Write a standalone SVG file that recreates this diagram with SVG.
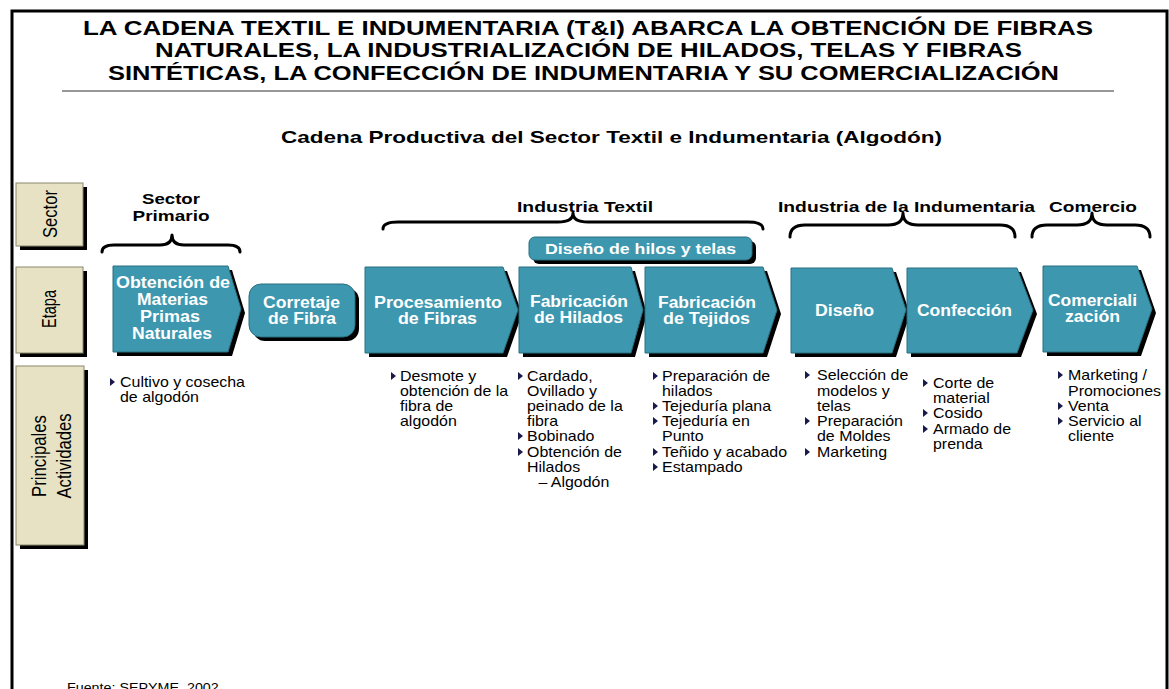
<svg xmlns="http://www.w3.org/2000/svg" width="1169" height="689" viewBox="0 0 1169 689">
<style>
.title{font-family:"Liberation Sans Narrow","Liberation Sans",Arial,sans-serif;font-weight:bold;font-size:21px;fill:#000;text-anchor:middle}
.sub{font-family:"Liberation Sans",Arial,sans-serif;font-weight:bold;font-size:17px;fill:#000;text-anchor:middle}
.hdr{font-family:"Liberation Sans",Arial,sans-serif;font-weight:bold;font-size:15.5px;fill:#000;text-anchor:middle}
.lbl{font-family:"Liberation Sans",Arial,sans-serif;font-weight:bold;font-size:16px;fill:#fff;text-anchor:middle}
.side{font-family:"Liberation Sans Narrow","Liberation Sans",Arial,sans-serif;font-size:20px;fill:#000;text-anchor:middle}
.act{font-family:"Liberation Sans",Arial,sans-serif;font-size:14px;fill:#000}
.foot{font-family:"Liberation Sans",Arial,sans-serif;font-size:13px;fill:#000}
.shape{fill:#3d97ae;stroke:#2b6f80;stroke-width:1}
.shadow{fill:#000}
.beige{fill:#e6e2c3;stroke:#8a876e;stroke-width:1}
.brace{fill:none;stroke:#000;stroke-width:3;stroke-linecap:round;stroke-linejoin:round}
.bul{fill:#1a1a4a}
</style>
<rect width="1169" height="689" fill="#fff"/>
<!-- frame -->
<path d="M12 700 L12 11 L1167 11 L1167 700" fill="none" stroke="#000" stroke-width="3"/>
<!-- title -->
<g id="title">
<text class="title" x="588" y="35" textLength="1010" lengthAdjust="spacingAndGlyphs">LA CADENA TEXTIL E INDUMENTARIA (T&amp;I) ABARCA LA OBTENCIÓN DE FIBRAS</text>
<text class="title" x="588.5" y="57" textLength="867" lengthAdjust="spacingAndGlyphs">NATURALES, LA INDUSTRIALIZACIÓN DE HILADOS, TELAS Y FIBRAS</text>
<text class="title" x="583.5" y="80" textLength="951" lengthAdjust="spacingAndGlyphs">SINTÉTICAS, LA CONFECCIÓN DE INDUMENTARIA Y SU COMERCIALIZACIÓN</text>
<line x1="62" y1="91" x2="1114" y2="91" stroke="#333" stroke-width="1.2"/>
<text class="sub" x="611.5" y="143" textLength="661" lengthAdjust="spacingAndGlyphs">Cadena Productiva del Sector Textil e Indumentaria (Algodón)</text>
</g>
<!-- side labels -->
<g id="side-sector">
<rect class="shadow" x="20" y="187" width="67" height="63"/>
<rect class="beige" x="16" y="183" width="67" height="63"/>
<text class="side" transform="translate(57,214) rotate(-90)" textLength="48" lengthAdjust="spacingAndGlyphs">Sector</text>
</g>
<g id="side-etapa">
<rect class="shadow" x="20" y="271" width="67" height="86"/>
<rect class="beige" x="16" y="267" width="67" height="86"/>
<text class="side" transform="translate(56,309) rotate(-90)" textLength="38" lengthAdjust="spacingAndGlyphs">Etapa</text>
</g>
<g id="side-actividades">
<rect class="shadow" x="20" y="370" width="68" height="179"/>
<rect class="beige" x="16" y="366" width="68" height="179"/>
<text class="side" transform="translate(46,456) rotate(-90)" textLength="82" lengthAdjust="spacingAndGlyphs">Principales</text>
<text class="side" transform="translate(71,456) rotate(-90)" textLength="85" lengthAdjust="spacingAndGlyphs">Actividades</text>
</g>
<!-- sector headers and braces -->
<g id="connectors">
<path class="brace" d="M102 252 Q102 245 114 245 L160 245 Q172 245 172 235 Q172 245 184 245 L228 245 Q240 245 240 252"/>
<path class="brace" d="M383 229 Q383 222 398 222 L558 222 Q573 222 573 213 Q573 222 588 222 L748 222 Q763 222 763 229"/>
<path class="brace" d="M790 237 Q790 225 805 225 L888 225 Q903 225 903 213 Q903 225 918 225 L1000 225 Q1015 225 1015 237"/>
<path class="brace" d="M1032 237 Q1032 225 1047 225 L1077 225 Q1092 225 1092 213 Q1092 225 1107 225 L1135 225 Q1150 225 1150 237"/>
</g>
<g id="sector-primario">
<text class="hdr" x="171" y="204" textLength="58" lengthAdjust="spacingAndGlyphs">Sector</text>
<text class="hdr" x="171" y="221" textLength="77" lengthAdjust="spacingAndGlyphs">Primario</text>
</g>
<g id="sector-textil"><text class="hdr" x="585" y="212" textLength="136" lengthAdjust="spacingAndGlyphs">Industria Textil</text></g>
<g id="sector-indumentaria"><text class="hdr" x="906.5" y="212" textLength="257" lengthAdjust="spacingAndGlyphs">Industria de la Indumentaria</text></g>
<g id="sector-comercio"><text class="hdr" x="1093" y="212" textLength="88" lengthAdjust="spacingAndGlyphs">Comercio</text></g>
<!-- stages -->
<g id="etapa-obtencion">
<path class="shadow" d="M117 270 L232 270 L245 313 L232 356 L117 356 Z"/>
<path class="shape" d="M113 266 L228 266 L241 309 L228 352 L113 352 Z"/>
<text class="lbl" x="173" y="288" textLength="114" lengthAdjust="spacingAndGlyphs">Obtención de</text>
<text class="lbl" x="172.5" y="305" textLength="71" lengthAdjust="spacingAndGlyphs">Materias</text>
<text class="lbl" x="170" y="322" textLength="60" lengthAdjust="spacingAndGlyphs">Primas</text>
<text class="lbl" x="172" y="339" textLength="80" lengthAdjust="spacingAndGlyphs">Naturales</text>
</g>
<g id="etapa-corretaje">
<rect class="shadow" x="253" y="288" width="106" height="53" rx="12"/>
<rect class="shape" x="249" y="284" width="106" height="53" rx="12"/>
<text class="lbl" x="301.5" y="308" textLength="77" lengthAdjust="spacingAndGlyphs">Corretaje</text>
<text class="lbl" x="302" y="324" textLength="68" lengthAdjust="spacingAndGlyphs">de Fibra</text>
</g>
<g id="diseno-hilos">
<rect class="shadow" x="533" y="241" width="223" height="23" rx="6"/>
<rect class="shape" x="529" y="237" width="223" height="23" rx="6"/>
<text class="lbl" x="640.5" y="254" textLength="191" lengthAdjust="spacingAndGlyphs" style="font-size:15px">Diseño de hilos y telas</text>
</g>
<g id="etapa-procesamiento">
<path class="shadow" d="M369 271 L507 271 L522 314 L507 357 L369 357 Z"/>
<path class="shape" d="M365 267 L503 267 L518 310 L503 353 L365 353 Z"/>
<text class="lbl" x="438" y="308" textLength="128" lengthAdjust="spacingAndGlyphs">Procesamiento</text>
<text class="lbl" x="437.5" y="324" textLength="79" lengthAdjust="spacingAndGlyphs">de Fibras</text>
</g>
<g id="etapa-hilados">
<path class="shadow" d="M523 271 L635 271 L647 314 L635 357 L523 357 Z"/>
<path class="shape" d="M519 267 L631 267 L643 310 L631 353 L519 353 Z"/>
<text class="lbl" x="579" y="307" textLength="98" lengthAdjust="spacingAndGlyphs">Fabricación</text>
<text class="lbl" x="578.5" y="323" textLength="89" lengthAdjust="spacingAndGlyphs">de Hilados</text>
</g>
<g id="etapa-tejidos">
<path class="shadow" d="M649 271 L767 271 L781 314 L767 357 L649 357 Z"/>
<path class="shape" d="M645 267 L763 267 L777 310 L763 353 L645 353 Z"/>
<text class="lbl" x="707" y="308" textLength="98" lengthAdjust="spacingAndGlyphs">Fabricación</text>
<text class="lbl" x="706.5" y="324" textLength="87" lengthAdjust="spacingAndGlyphs">de Tejidos</text>
</g>
<g id="etapa-diseno">
<path class="shadow" d="M795 272 L896 272 L910 314 L896 357 L795 357 Z"/>
<path class="shape" d="M791 268 L892 268 L906 310 L892 353 L791 353 Z"/>
<text class="lbl" x="844.5" y="316" textLength="59" lengthAdjust="spacingAndGlyphs">Diseño</text>
</g>
<g id="etapa-confeccion">
<path class="shadow" d="M911 272 L1021 272 L1037 314 L1021 357 L911 357 Z"/>
<path class="shape" d="M907 268 L1017 268 L1033 310 L1017 353 L907 353 Z"/>
<text class="lbl" x="964.5" y="316" textLength="95" lengthAdjust="spacingAndGlyphs">Confección</text>
</g>
<g id="etapa-comercializacion">
<path class="shadow" d="M1047 270 L1141 270 L1156 313 L1141 356 L1047 356 Z"/>
<path class="shape" d="M1043 266 L1137 266 L1152 309 L1137 352 L1043 352 Z"/>
<text class="lbl" x="1092.5" y="306" textLength="89" lengthAdjust="spacingAndGlyphs">Comerciali</text>
<text class="lbl" x="1092.5" y="322" textLength="55" lengthAdjust="spacingAndGlyphs">zación</text>
</g>
<!-- activities -->
<g id="act-obtencion">
<path class="bul" d="M110 378 L115 382 L110 386 Z"/>
<g transform="translate(120,0) scale(1.14,1)" class="act">
<text x="0" y="387">Cultivo y cosecha</text>
<text x="0" y="402">de algodón</text>
</g>
</g>
<g id="act-procesamiento">
<path class="bul" d="M391 372 L396 376 L391 380 Z"/>
<g transform="translate(400,0) scale(1.14,1)" class="act">
<text x="0" y="381">Desmote y</text>
<text x="0" y="396">obtención de la</text>
<text x="0" y="411">fibra de</text>
<text x="0" y="426">algodón</text>
</g>
</g>
<g id="act-hilados">
<path class="bul" d="M518 372 L523 376 L518 380 Z"/>
<path class="bul" d="M518 432 L523 436 L518 440 Z"/>
<path class="bul" d="M518 448 L523 452 L518 456 Z"/>
<g transform="translate(527,0) scale(1.14,1)" class="act">
<text x="0" y="381">Cardado,</text>
<text x="0" y="396">Ovillado y</text>
<text x="0" y="411">peinado de la</text>
<text x="0" y="426">fibra</text>
<text x="0" y="441">Bobinado</text>
<text x="0" y="457">Obtención de</text>
<text x="0" y="472">Hilados</text>
<text x="10" y="487">– Algodón</text>
</g>
</g>
<g id="act-tejidos">
<path class="bul" d="M653 372 L658 376 L653 380 Z"/>
<path class="bul" d="M653 402 L658 406 L653 410 Z"/>
<path class="bul" d="M653 417 L658 421 L653 425 Z"/>
<path class="bul" d="M653 448 L658 452 L653 456 Z"/>
<path class="bul" d="M653 463 L658 467 L653 471 Z"/>
<g transform="translate(662,0) scale(1.14,1)" class="act">
<text x="0" y="381">Preparación de</text>
<text x="0" y="396">hilados</text>
<text x="0" y="411">Tejeduría plana</text>
<text x="0" y="426">Tejeduría en</text>
<text x="0" y="441">Punto</text>
<text x="0" y="457">Teñido y acabado</text>
<text x="0" y="472">Estampado</text>
</g>
</g>
<g id="act-diseno">
<path class="bul" d="M805 371 L810 375 L805 379 Z"/>
<path class="bul" d="M805 417 L810 421 L805 425 Z"/>
<path class="bul" d="M805 448 L810 452 L805 456 Z"/>
<g transform="translate(817,0) scale(1.14,1)" class="act">
<text x="0" y="380">Selección de</text>
<text x="0" y="396">modelos y</text>
<text x="0" y="411">telas</text>
<text x="0" y="426">Preparación</text>
<text x="0" y="441">de Moldes</text>
<text x="0" y="457">Marketing</text>
</g>
</g>
<g id="act-confeccion">
<path class="bul" d="M923 379 L928 383 L923 387 Z"/>
<path class="bul" d="M923 409 L928 413 L923 417 Z"/>
<path class="bul" d="M923 425 L928 429 L923 433 Z"/>
<g transform="translate(933,0) scale(1.14,1)" class="act">
<text x="0" y="388">Corte de</text>
<text x="0" y="403">material</text>
<text x="0" y="418">Cosido</text>
<text x="0" y="434">Armado de</text>
<text x="0" y="449">prenda</text>
</g>
</g>
<g id="act-comercializacion">
<path class="bul" d="M1058 371 L1063 375 L1058 379 Z"/>
<path class="bul" d="M1058 402 L1063 406 L1058 410 Z"/>
<path class="bul" d="M1058 417 L1063 421 L1058 425 Z"/>
<g transform="translate(1068,0) scale(1.14,1)" class="act">
<text x="0" y="380">Marketing /</text>
<text x="0" y="396">Promociones</text>
<text x="0" y="411">Venta</text>
<text x="0" y="426">Servicio al</text>
<text x="0" y="441">cliente</text>
</g>
</g>
<g id="footer">
<text class="foot" transform="translate(67,692) scale(1.1,1)">Fuente:  SEPYME, 2002</text>
</g>
</svg>
